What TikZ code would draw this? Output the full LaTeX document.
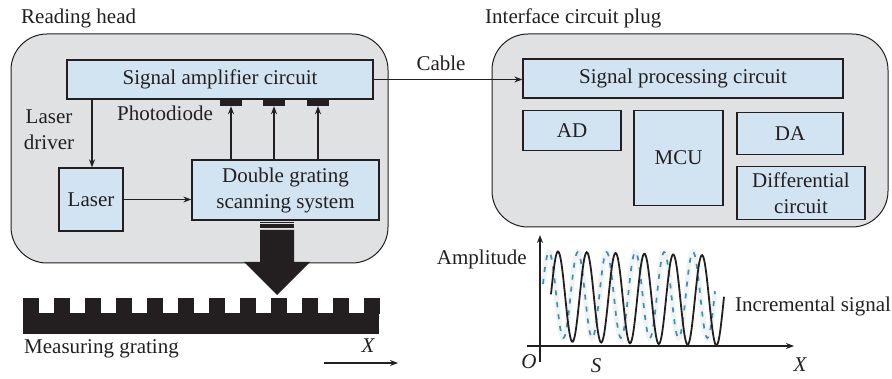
\documentclass[tikz,border=0pt]{standalone}
\usepackage{fontspec}
\setmainfont{Liberation Serif}
\usepackage{xcolor}
\usetikzlibrary{arrows.meta}
\definecolor{panelgray}{HTML}{E0E1E3}
\definecolor{blockblue}{HTML}{D2E4F1}
\definecolor{inkdark}{HTML}{231F20}
\definecolor{noiseblue}{HTML}{3F8FB0}
\definecolor{noisepale}{HTML}{F0F3F3}

\begin{document}
\begin{tikzpicture}[
    x=1pt, y=-1pt,
    panel/.style={rectangle, draw=inkdark, fill=panelgray, line width=1pt, rounded corners=36pt, inner sep=0pt},
    block/.style={rectangle, draw=inkdark, fill=blockblue, line width=1.3pt, inner sep=0pt, align=center, text=inkdark, font=\fontsize{21}{26}\selectfont},
    lbl/.style={inner sep=0pt, align=center, text=inkdark, font=\fontsize{21}{26}\selectfont},
    diode/.style={rectangle, fill=inkdark, inner sep=0pt, minimum width=22pt, minimum height=7pt},
    arrow/.style={-{Stealth[length=8pt,width=6pt]}, line width=1.3pt, draw=inkdark}
]
\useasboundingbox (0,0) rectangle (892,379);

% housings
\node[panel, minimum width=377pt, minimum height=229pt] (head) at (199.5,148.5) {};
\node[panel, minimum width=396pt, minimum height=193pt] (plug) at (690,130.5) {};
\node[lbl, anchor=west] (headlbl) at (21,18) {Reading head};
\node[lbl, anchor=west] (pluglbl) at (485,18) {Interface circuit plug};

% reading head
\node[block, minimum width=306pt, minimum height=39pt] (amp) at (220,79.5) {Signal amplifier circuit};
\node[block, minimum width=64pt, minimum height=63pt] (laser) at (91,199.5) {Laser};
\node[block, minimum width=187pt, minimum height=60pt] (dg) at (285.5,190) {Double grating\\scanning system};
\node[diode] (pd1) at (231,102.5) {};
\node[diode] (pd2) at (274,102.5) {};
\node[diode] (pd3) at (318,102.5) {};
\node[lbl] (pdlbl) at (165,113) {Photodiode};
\node[lbl] (drvlbl) at (49,130) {Laser\\driver};
\coordinate (drv) at (92,99);

\draw[arrow] (drv) -- (drv |- laser.north);
\draw[arrow] (laser.east) -- (laser.east -| dg.west);
\draw[arrow] (dg.north -| pd1) -- (pd1.south);
\draw[arrow] (dg.north -| pd2) -- (pd2.south);
\draw[arrow] (dg.north -| pd3) -- (pd3.south);

% interface plug
\node[block, minimum width=320pt, minimum height=39pt] (sp) at (683,78.5) {Signal processing circuit};
\node[block, minimum width=98pt, minimum height=40pt] (ad) at (572,130.5) {AD};
\node[block, minimum width=89pt, minimum height=95pt] (mcu) at (678.5,158) {MCU};
\node[block, minimum width=106pt, minimum height=42pt] (da) at (790,133.5) {DA};
\node[block, minimum width=128pt, minimum height=53pt] (diff) at (801,193) {Differential\\circuit};

\draw[arrow] (amp.east) -- (amp.east -| sp.west);
\node[lbl] (cable) at (441,63) {Cable};

% beam
\fill[inkdark] (260,221.7) rectangle (294,223.2);
\fill[inkdark] (260,224) rectangle (294,228);
\fill[inkdark] (260,230) -- (294,230) -- (294,262) -- (310,262) -- (277,295) -- (244,262) -- (260,262) -- cycle;

% grating
\fill[inkdark] (23,313) rectangle (379,334);
\foreach \i in {0,...,11}
    \fill[inkdark] ({23+\i*31},298) rectangle ({38.5+\i*31},314);
\node[lbl, anchor=west] (gratlbl) at (24,349) {Measuring grating};
\node[lbl, font=\fontsize{21}{26}\selectfont\itshape] (gratx) at (368,346) {X};
\coordinate (dirs) at (324,363);
\coordinate (dire) at (398,363);
\draw[arrow] (dirs) -- (dire);

% signal plot
\draw[noisepale, line width=5pt] plot[domain=543:715, samples=180, smooth] (\x, {295-43*cos(12.5*(\x-549))});
\draw[noiseblue, line width=1.7pt, dash pattern=on 5pt off 7pt] plot[domain=543:715, samples=180, smooth] (\x, {295-43*cos(12.5*(\x-549))});
\draw[inkdark, line width=1.8pt] plot[domain=551:724, samples=200, smooth] (\x, {296.5+(\x-558)/40-45*cos(12.5*(\x-558))});
\coordinate (xs) at (527,346);
\coordinate (xe) at (794,346);
\coordinate (ys) at (540,362);
\coordinate (ye) at (540,235);
\draw[arrow] (xs) -- (xe);
\draw[arrow] (ys) -- (ye);
\node[lbl, anchor=east] (amplbl) at (527,259) {Amplitude};
\node[lbl, anchor=west] (inclbl) at (735,306) {Incremental signal};
\node[lbl, font=\fontsize{21}{26}\selectfont\itshape] (olbl) at (529,362) {O};
\node[lbl, font=\fontsize{21}{26}\selectfont\itshape] (slbl) at (596,366) {S};
\node[lbl, font=\fontsize{21}{26}\selectfont\itshape] (xlbl) at (800,365) {X};

\end{tikzpicture}
\end{document}
